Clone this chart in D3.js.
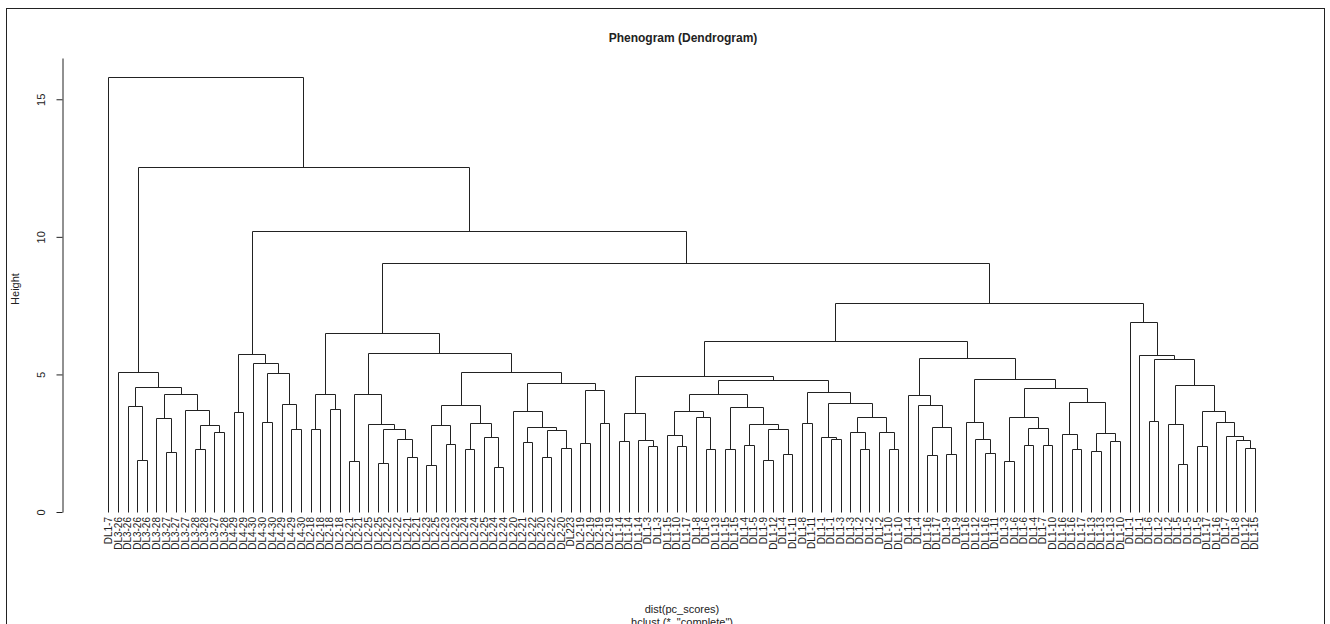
<!DOCTYPE html>
<html>
<head>
<meta charset="utf-8">
<script src="https://cdn.jsdelivr.net/npm/d3@7"></script>
<style>
  body { margin: 0; background: #fff; }
  svg { display: block; }
  text { font-family: "Liberation Sans", Arial, sans-serif; fill: #222; }
</style>
</head>
<body>
<script>
// leaves in plotted (hclust order) sequence
const leafLabels = [
  'DL1-7',
  'DL3-26', 'DL3-26', 'DL3-26', 'DL3-26', 'DL3-28', 'DL3-27', 'DL3-27', 'DL3-27', 'DL3-28', 'DL3-28', 'DL3-27', 'DL3-28',
  'DL4-29', 'DL4-29', 'DL4-30', 'DL4-30', 'DL4-30', 'DL4-29', 'DL4-29', 'DL4-30',
  'DL2-18', 'DL2-18', 'DL2-18', 'DL2-18', 'DL2-21', 'DL2-21', 'DL2-25', 'DL2-25', 'DL2-22', 'DL2-22', 'DL2-21', 'DL2-21',
  'DL2-23', 'DL2-25', 'DL2-23', 'DL2-23', 'DL2-24', 'DL2-24', 'DL2-25', 'DL2-24', 'DL2-24',
  'DL2-20', 'DL2-21', 'DL2-22', 'DL2-20', 'DL2-22', 'DL2-20', 'DL223', 'DL2-19', 'DL2-19', 'DL2-19', 'DL2-19',
  'DL1-14', 'DL1-14', 'DL1-14', 'DL1-3', 'DL1-3', 'DL1-15', 'DL1-10', 'DL1-17', 'DL1-8', 'DL1-6', 'DL1-13',
  'DL1-15', 'DL1-15', 'DL1-4', 'DL1-5', 'DL1-9', 'DL1-12', 'DL1-4', 'DL1-11', 'DL1-8', 'DL1-11',
  'DL1-1', 'DL1-1', 'DL1-3', 'DL1-3', 'DL1-2', 'DL1-2', 'DL1-2', 'DL1-10', 'DL1-10',
  'DL1-4', 'DL1-4', 'DL1-16', 'DL1-17', 'DL1-9', 'DL1-9', 'DL1-16', 'DL1-12', 'DL1-16', 'DL1-11',
  'DL1-3', 'DL1-6', 'DL1-6', 'DL1-4', 'DL1-7', 'DL1-10', 'DL1-16', 'DL1-16', 'DL1-17', 'DL1-13', 'DL1-13', 'DL1-13', 'DL1-10',
  'DL1-1', 'DL1-1', 'DL1-6', 'DL1-2', 'DL1-2', 'DL1-5', 'DL1-5', 'DL1-5', 'DL1-17', 'DL1-16', 'DL1-7', 'DL1-8', 'DL1-12', 'DL1-15'
];

// merges: [id, left, right, height]; "L<n>" is the n-th leaf above
const merges = [
  ['A1', 'L3', 'L4', 1.89], ['A2', 'L2', 'A1', 3.87],
  ['B1', 'L6', 'L7', 2.17], ['B2', 'L5', 'B1', 3.41], ['B3', 'L9', 'L10', 2.29], ['B4', 'L11', 'L12', 2.90],
  ['B5', 'B3', 'B4', 3.15], ['B6', 'L8', 'B5', 3.71], ['B7', 'B2', 'B6', 4.30],
  ['C1', 'A2', 'B7', 4.54], ['C2', 'L1', 'C1', 5.10],
  ['D1', 'L13', 'L14', 3.64], ['D2', 'L16', 'L17', 3.26], ['D3', 'L19', 'L20', 3.01], ['D4', 'L18', 'D3', 3.92],
  ['D5', 'D2', 'D4', 5.04], ['D6', 'L15', 'D5', 5.41], ['D7', 'D1', 'D6', 5.74],
  ['E1', 'L21', 'L22', 3.01], ['E2', 'L23', 'L24', 3.73], ['E3', 'E1', 'E2', 4.28],
  ['F1', 'L25', 'L26', 1.87], ['F2', 'L28', 'L29', 1.77], ['F3', 'L31', 'L32', 1.99], ['F4', 'L30', 'F3', 2.67],
  ['F5', 'F2', 'F4', 3.03], ['F6', 'L27', 'F5', 3.19], ['F7', 'F1', 'F6', 4.28],
  ['G1', 'L33', 'L34', 1.70], ['G2', 'L35', 'L36', 2.46], ['G3', 'G1', 'G2', 3.16], ['G4', 'L37', 'L38', 2.28],
  ['G5', 'L40', 'L41', 1.64], ['G6', 'L39', 'G5', 2.72], ['G7', 'G4', 'G6', 3.24], ['G8', 'G3', 'G7', 3.89],
  ['H1', 'L43', 'L44', 2.53], ['H2', 'L45', 'L46', 1.99], ['H3', 'L47', 'L48', 2.34], ['H4', 'H2', 'H3', 2.97],
  ['H5', 'H1', 'H4', 3.08], ['H6', 'L42', 'H5', 3.66], ['H7', 'L49', 'L50', 2.52], ['H8', 'L51', 'L52', 3.24],
  ['H9', 'H7', 'H8', 4.42], ['H10', 'H6', 'H9', 4.68], ['H11', 'G8', 'H10', 5.08], ['H12', 'F7', 'H11', 5.78],
  ['H13', 'E3', 'H12', 6.51],
  ['I1', 'L53', 'L54', 2.58], ['I2', 'L56', 'L57', 2.39], ['I3', 'L55', 'I2', 2.60], ['I4', 'I1', 'I3', 3.59],
  ['J1', 'L59', 'L60', 2.40], ['J2', 'L58', 'J1', 2.79], ['J3', 'L62', 'L63', 2.28], ['J4', 'L61', 'J3', 3.47],
  ['J5', 'J2', 'J4', 3.66],
  ['K1', 'L64', 'L65', 2.30], ['K2', 'L66', 'L67', 2.44], ['K3', 'L68', 'L69', 1.89], ['K4', 'L70', 'L71', 2.10],
  ['K5', 'K3', 'K4', 3.01], ['K6', 'K2', 'K5', 3.19], ['K7', 'K1', 'K6', 3.83], ['K8', 'J5', 'K7', 4.30],
  ['M1', 'L72', 'L73', 3.22], ['M2', 'L75', 'L76', 2.64], ['M3', 'L74', 'M2', 2.74], ['M4', 'L78', 'L79', 2.28],
  ['M5', 'L77', 'M4', 2.90], ['M6', 'L81', 'L82', 2.28], ['M7', 'L80', 'M6', 2.92], ['M8', 'M5', 'M7', 3.44],
  ['M9', 'M3', 'M8', 3.95], ['M10', 'M1', 'M9', 4.37], ['M11', 'K8', 'M10', 4.81], ['M12', 'I4', 'M11', 4.96],
  ['N1', 'L85', 'L86', 2.08], ['N2', 'L87', 'L88', 2.10], ['N3', 'N1', 'N2', 3.10], ['N4', 'L84', 'N3', 3.89],
  ['N5', 'L83', 'N4', 4.25],
  ['O1', 'L91', 'L92', 2.16], ['O2', 'L90', 'O1', 2.64], ['O3', 'L89', 'O2', 3.26],
  ['P1', 'L93', 'L94', 1.87], ['P2', 'L95', 'L96', 2.42], ['P3', 'L97', 'L98', 2.45], ['P4', 'P2', 'P3', 3.04],
  ['P5', 'P1', 'P4', 3.44],
  ['Q1', 'L100', 'L101', 2.30], ['Q2', 'L99', 'Q1', 2.82], ['Q3', 'L102', 'L103', 2.23], ['Q4', 'L104', 'L105', 2.58],
  ['Q5', 'Q3', 'Q4', 2.87], ['Q6', 'Q2', 'Q5', 4.00], ['Q7', 'P5', 'Q6', 4.52],
  ['O4', 'O3', 'Q7', 4.82], ['N6', 'N5', 'O4', 5.59], ['R1', 'M12', 'N6', 6.22],
  ['S1', 'L108', 'L109', 3.32], ['S2', 'L111', 'L112', 1.75], ['S3', 'L110', 'S2', 3.21], ['S4', 'L113', 'L114', 2.40],
  ['S5', 'L118', 'L119', 2.33], ['S6', 'L117', 'S5', 2.61], ['S7', 'L116', 'S6', 2.75], ['S8', 'L115', 'S7', 3.27],
  ['S9', 'S4', 'S8', 3.68], ['S10', 'S3', 'S9', 4.61], ['S11', 'S1', 'S10', 5.55], ['S12', 'L107', 'S11', 5.71],
  ['S13', 'L106', 'S12', 6.90],
  ['T1', 'R1', 'S13', 7.61], ['T2', 'H13', 'T1', 9.05], ['T3', 'D7', 'T2', 10.22], ['T4', 'C2', 'T3', 12.55],
  ['T5', 'L0', 'T4', 15.82]
];

const yTicks = [0, 5, 10, 15];
const chartTitle = 'Phenogram (Dendrogram)';
const yLabel = 'Height';
const xLabel = 'dist(pc_scores)';
const subLabel = 'hclust (*, "complete")';

const width = 1330;
const height = 624;
const ink = '#222';

const svg = d3.select('body').append('svg')
  .attr('width', width)
  .attr('height', height);

// figure frame (runs off the bottom of the window)
svg.append('rect')
  .attr('x', 6.5).attr('y', 8.5)
  .attr('width', 1318).attr('height', 700)
  .attr('fill', 'none')
  .attr('stroke', ink);

const x = d3.scalePoint()
  .domain(d3.range(leafLabels.length))
  .range([108.3, 1254.8]);

const y = d3.scaleLinear()
  .domain([0, 16.5])
  .range([512, 58]);

// build the tree from the merge table
const lookup = new Map();
leafLabels.forEach((label, i) => lookup.set('L' + i, { id: 'L' + i, label, height: 0, leaf: i }));
merges.forEach(([id, a, b, h]) => {
  lookup.set(id, { id, height: h, children: [lookup.get(a), lookup.get(b)] });
});
const root = d3.hierarchy(lookup.get(merges[merges.length - 1][0]));

// x of a merge is the midpoint of its two children
root.eachAfter(d => {
  d.px = d.children
    ? (d.children[0].px + d.children[1].px) / 2
    : x(d.data.leaf);
});

const px = v => Math.round(v) + 0.5;

svg.append('g')
  .attr('fill', 'none')
  .attr('stroke', ink)
  .attr('stroke-width', 1)
  .selectAll('path')
  .data(root.descendants().filter(d => d.children))
  .join('path')
  .attr('d', d => {
    const [l, r] = d.children;
    return `M${px(l.px)},${px(y(l.data.height))}V${px(y(d.data.height))}H${px(r.px)}V${px(y(r.data.height))}`;
  });

// leaf labels, hanging below the baseline
svg.append('g')
  .attr('font-size', 10)
  .selectAll('text')
  .data(root.leaves())
  .join('text')
  .attr('transform', d => `translate(${d.px + 3.6},${y(0) + 5}) rotate(-90)`)
  .attr('text-anchor', 'end')
  .text(d => d.data.label);

// y axis
const yAxis = svg.append('g')
  .attr('transform', 'translate(62.5,0)')
  .call(d3.axisLeft(y).tickValues(yTicks).tickSize(6).tickSizeOuter(0));
yAxis.select('.domain').attr('stroke', ink);
yAxis.selectAll('.tick line').attr('stroke', ink);
yAxis.selectAll('.tick text')
  .attr('x', null).attr('dy', null)
  .attr('transform', 'translate(-18,0) rotate(-90)')
  .attr('text-anchor', 'middle')
  .attr('font-family', '"Liberation Sans", Arial, sans-serif')
  .attr('font-size', 11)
  .attr('fill', ink);

svg.append('text')
  .attr('transform', 'translate(19,289) rotate(-90)')
  .attr('text-anchor', 'middle')
  .attr('font-size', 11)
  .text(yLabel);

svg.append('text')
  .attr('x', 683).attr('y', 42)
  .attr('text-anchor', 'middle')
  .attr('font-size', 12)
  .attr('font-weight', 'bold')
  .text(chartTitle);

svg.append('text')
  .attr('x', 682).attr('y', 613)
  .attr('text-anchor', 'middle')
  .attr('font-size', 11)
  .text(xLabel);

svg.append('text')
  .attr('x', 682).attr('y', 626)
  .attr('text-anchor', 'middle')
  .attr('font-size', 11)
  .text(subLabel);
</script>
</body>
</html>
